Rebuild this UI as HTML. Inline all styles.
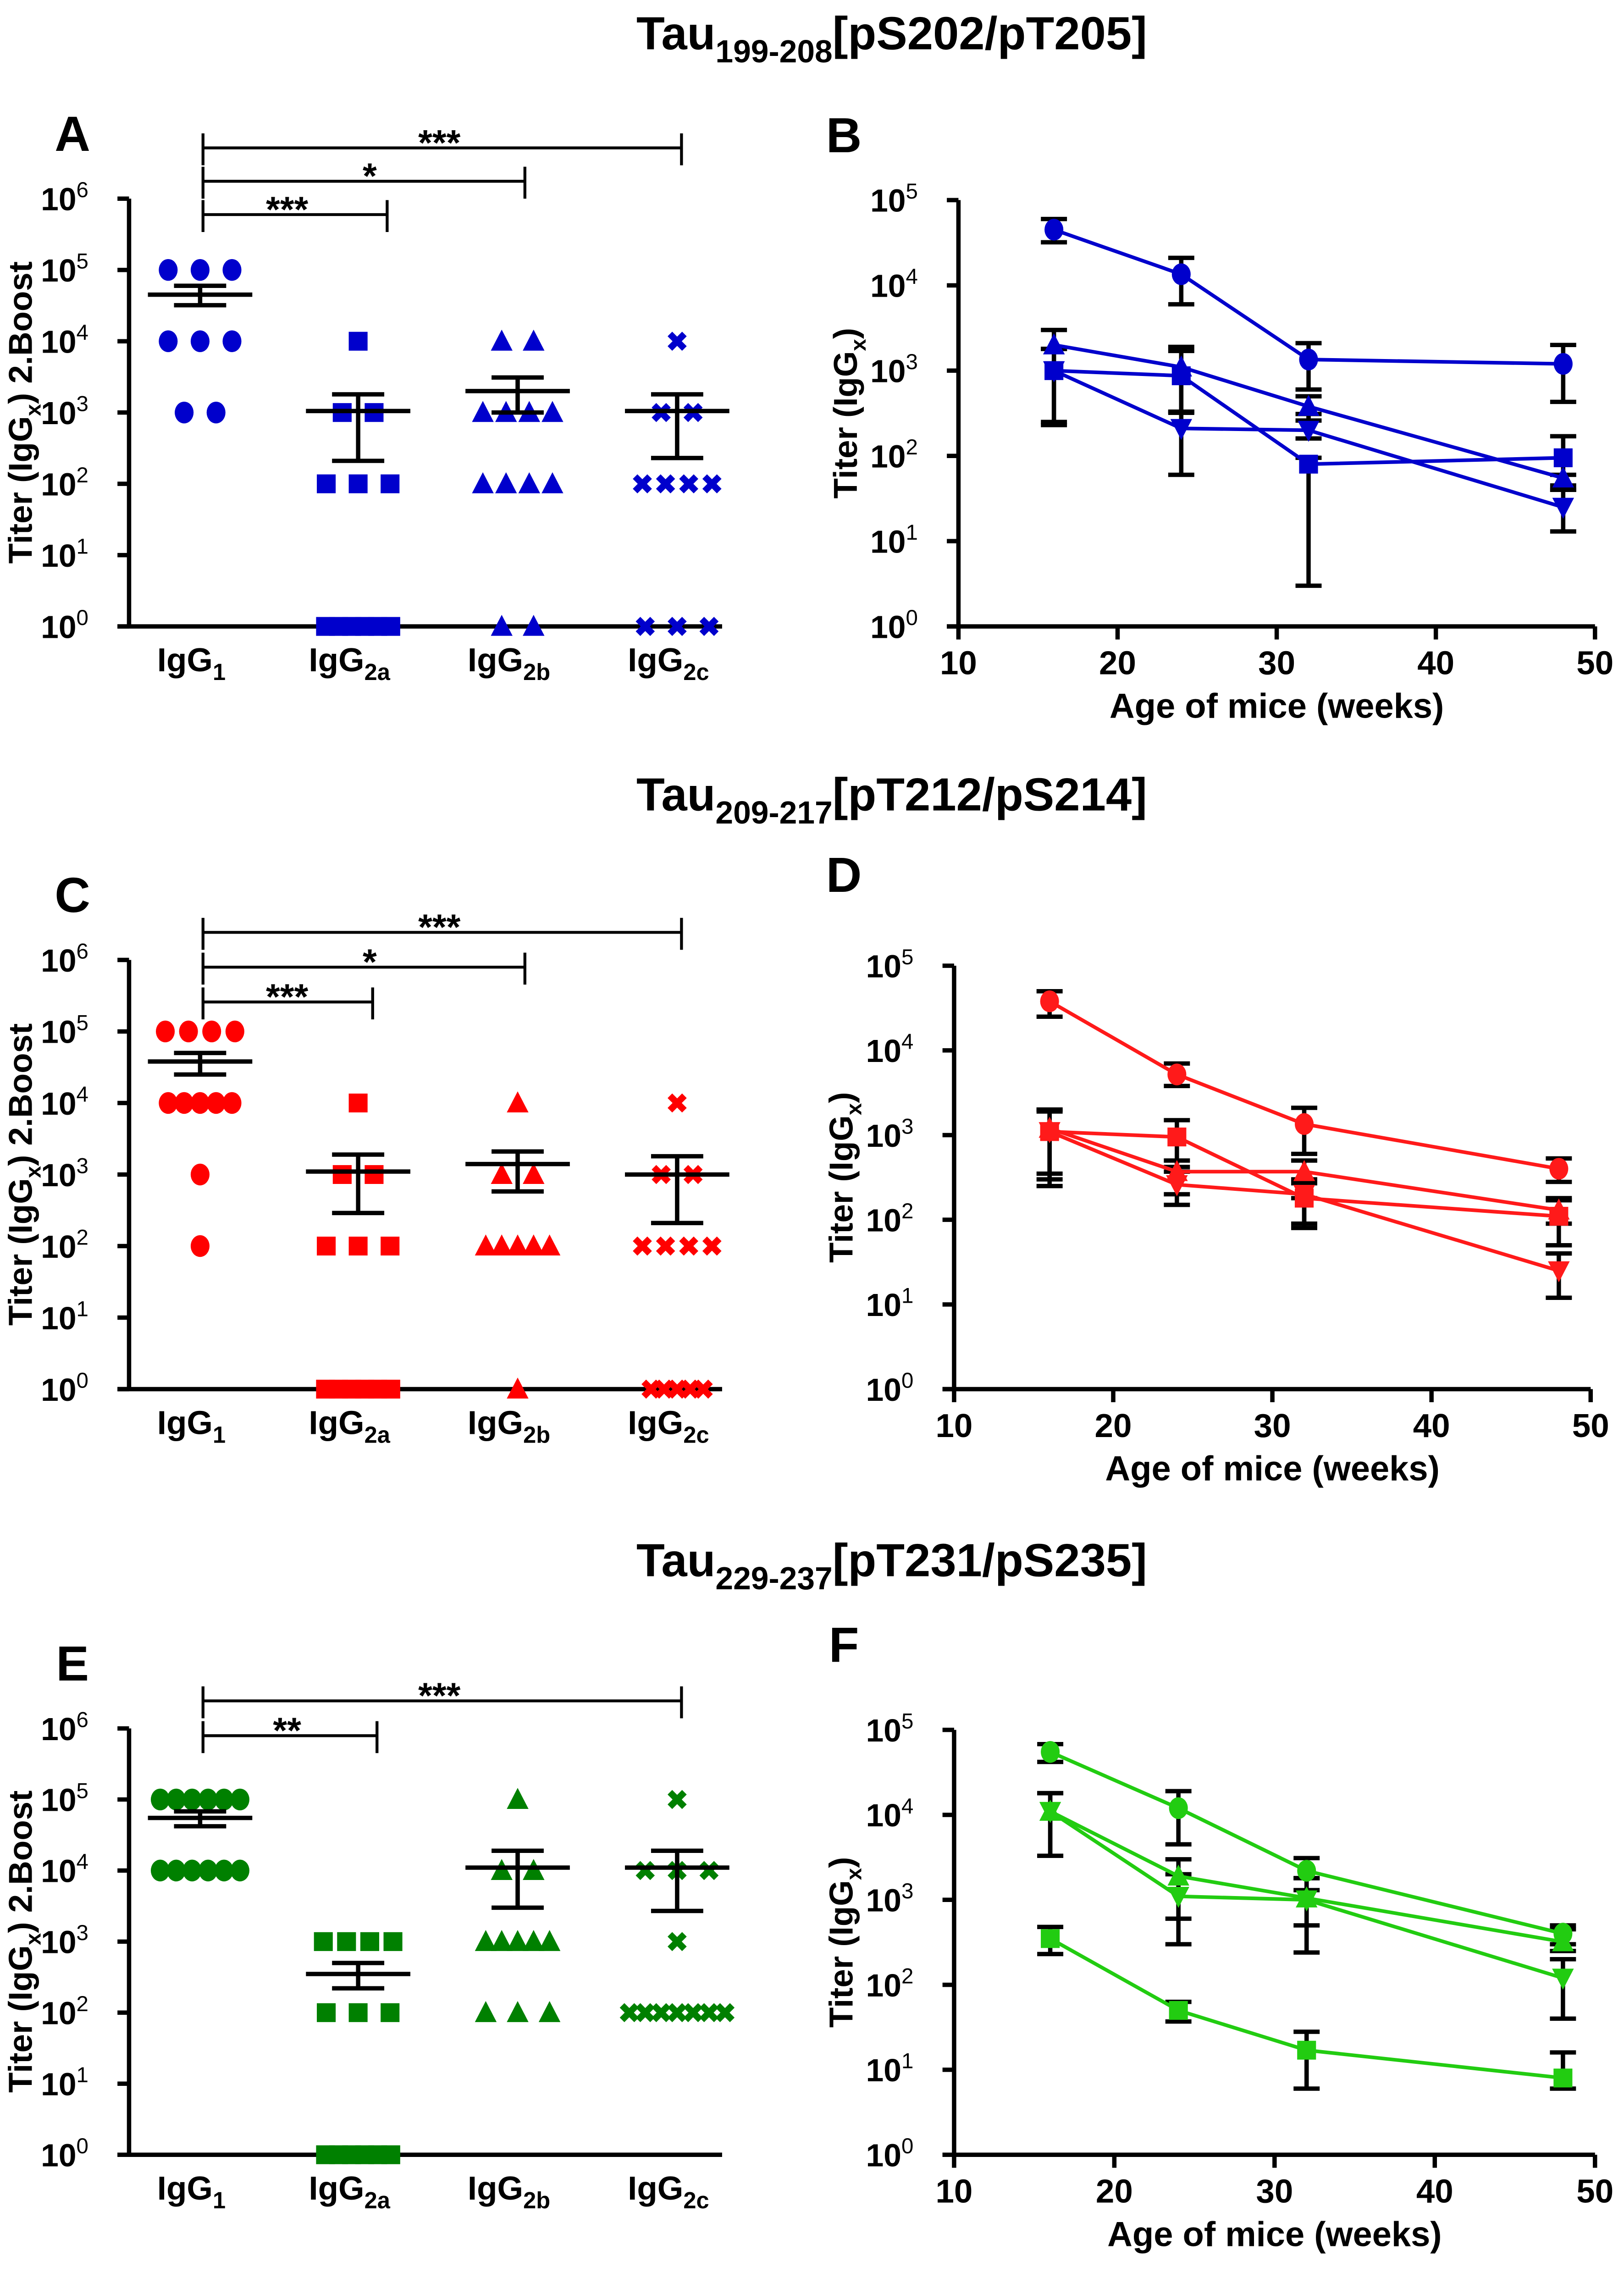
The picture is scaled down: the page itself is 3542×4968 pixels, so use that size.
<!DOCTYPE html>
<html><head><meta charset="utf-8">
<style>
html,body{margin:0;padding:0;background:#fff;}
svg{display:block;font-family:"Liberation Sans Narrow","Liberation Sans",sans-serif;font-weight:bold;}
</style></head>
<body>
<svg id="fig" xmlns="http://www.w3.org/2000/svg" width="3542" height="4968" viewBox="0 0 1120 1571" preserveAspectRatio="none"></svg>
<script>
// ---------- data ----------
const stripCategories = ["IgG1","IgG2a","IgG2b","IgG2c"];
const stripLevels = [100000,10000,1000,100,1];
const countsA = [[3,3,2,0,0],[0,1,2,3,6],[0,2,4,4,2],[0,1,2,4,3]];
const countsC = [[4,5,1,1,0],[0,1,2,3,6],[0,1,2,5,1],[0,1,2,4,5]];
const countsE = [[6,6,0,0,0],[0,0,4,3,6],[1,2,5,3,0],[1,3,1,7,0]];
const meanA = [45000,1050,2000,1050];
const lowA = [32000,210,1000,230];
const highA = [60000,1800,3100,1800];
const meanC = [38000,1100,1400,1000];
const lowC = [25000,290,580,210];
const highC = [50000,1900,2100,1800];
const meanE = [55000,350,11000,11000];
const lowE = [42000,220,3000,2700];
const highE = [68000,500,19000,19000];

const ages = [16,24,32,48];
const yTicksDec = [0,1,2,3,4,5,6];
const xTicks = [10,20,30,40,50];
const bCircle = [45000,13500,1350,1200], bCircleLo=[32000,6000,600,430], bCircleHi=[60000,21000,2100,2000];
const bUp = [2000,1100,380,55], bUpLo=[1800,330,260,40], bUpHi=[3000,1900,500,45];
const bSquare = [1000,870,80,95], bSquareLo=[250,320,3,60], bSquareHi=[1800,1700,95,170];
const bDown = [1000,210,200,25], bDownLo=[230,60,160,13], bDownHi=[1800,330,310,40];
const dCircle = [38000,5200,1350,400], dCircleLo=[25000,3800,600,280], dCircleHi=[50000,7000,2100,530];
const dSquare = [1100,950,180,110], dSquareLo=[350,420,90,50], dSquareHi=[1900,1500,270,170];
const dUp = [1200,370,370,130], dUpLo=[300,200,180,90], dUpHi=[2000,500,500,180];
const dDown = [1100,260,200,25], dDownLo=[250,150,80,12], dDownHi=[2000,370,300,40];
const fCircle = [55000,12000,2200,400], fCircleLo=[42000,4500,1300,300], fCircleHi=[68000,19000,3100,500];
const fUp = [11000,1900,1050,320], fUpLo=[3300,600,500,250], fUpHi=[18000,3000,1800,450];
const fDown = [11000,1100,1000,120], fDownLo=[3300,300,240,40], fDownHi=[18000,2000,1800,200];
const fSquare = [350,50,17,8], fSquareLo=[230,37,6,6], fSquareHi=[480,63,28,16];

const svg = document.getElementById('fig');
const NS = "http://www.w3.org/2000/svg";
function el(tag, attrs, name, parent){
  const e = document.createElementNS(NS, tag);
  for (const k in attrs) e.setAttribute(k, attrs[k]);
  
  
  (parent||svg).appendChild(e);
  return e;
}
function txt(x,y,s,size,name,anchor,parent){
  const t = el('text',{x:x,y:y,'font-size':size,'text-anchor':anchor||'middle',fill:'#000'},name,parent);
  t.textContent = s; return t;
}
function marker(shape,x,y,color,name,g){
  if(shape==='circle') return el('ellipse',{cx:x,cy:y,rx:6.5,ry:7.5,fill:color},name,g);
  if(shape==='square') return el('rect',{x:x-6.5,y:y-6.5,width:13,height:13,fill:color},name,g);
  if(shape==='up') return el('polygon',{points:`${x},${y-8} ${x+7.5},${y+6.5} ${x-7.5},${y+6.5}`,fill:color},name,g);
  if(shape==='down') return el('polygon',{points:`${x},${y+8} ${x+7.5},${y-6.5} ${x-7.5},${y-6.5}`,fill:color},name,g);
  if(shape==='x') return el('path',{d:`M${x-5},${y-5}L${x+5},${y+5}M${x+5},${y-5}L${x-5},${y+5}`,stroke:color,'stroke-width':4.5},name,g);
}
function yTickLabel(x,y,p,name,g){
  const t = el('text',{x:x,y:y+8,'font-size':22,'text-anchor':'end',fill:'#000'},name,g);
  const a = document.createElementNS(NS,'tspan'); a.textContent='10'; t.appendChild(a);
  const b = document.createElementNS(NS,'tspan'); b.setAttribute('dy','-9'); b.setAttribute('font-size','15'); b.setAttribute('font-weight','normal'); b.textContent=String(p); t.appendChild(b);
}
function yTitle(x,y,pre,post,name,g){
  const t = el('text',{transform:`translate(${x},${y}) rotate(-90)`,'font-size':23,'text-anchor':'middle',fill:'#000'},name,g);
  const a=document.createElementNS(NS,'tspan'); a.textContent='Titer (IgG'; t.appendChild(a);
  const b=document.createElementNS(NS,'tspan'); b.setAttribute('dy','6'); b.setAttribute('font-size','15'); b.textContent='x'; t.appendChild(b);
  const c=document.createElementNS(NS,'tspan'); c.setAttribute('dy','-6'); c.textContent=') '+post; t.appendChild(c);
}
function title(y,base,sub,rest,name){
  const t = el('text',{x:615,y:y,'font-size':32,'text-anchor':'middle',fill:'#000'},name);
  const a=document.createElementNS(NS,'tspan'); a.textContent=base; t.appendChild(a);
  const b=document.createElementNS(NS,'tspan'); b.setAttribute('dy','9'); b.setAttribute('font-size','22'); b.textContent=sub; t.appendChild(b);
  const c=document.createElementNS(NS,'tspan'); c.setAttribute('dy','-9'); c.textContent=rest; t.appendChild(c);
}
function yTickDecades(g,ax,yTop,yBot,n){
  const dec=(yBot-yTop)/n;
  for(let p=0;p<=n;p++){
    const y=yBot-p*dec;
    el('line',{x1:ax-8,y1:y,x2:ax,y2:y,stroke:'#000','stroke-width':3},'y-tick',g);
    yTickLabel(ax-28,y,yTicksDec[p],'y-tick-label',g);
  }
}

function stripPanel(opt){
  const g = el('g',{},opt.name);
  const ax=89, xr=498, yTop=opt.yTop, yBot=opt.yBot;
  const dec=(yBot-yTop)/6;
  const ys=v=>yBot-Math.log10(v)*dec;
  const cx=[138,247,357,467];
  txt(50,opt.yTop-33,opt.letter,34,'panel-letter-'+opt.letter,'middle',g);
  el('line',{x1:ax,y1:yTop,x2:ax,y2:yBot,stroke:'#000','stroke-width':3},'y-axis',g);
  el('line',{x1:ax-8,y1:yBot,x2:xr,y2:yBot,stroke:'#000','stroke-width':3},'x-axis',g);
  yTickDecades(g,ax,yTop,yBot,6);
  const subs=['1','2a','2b','2c'];
  stripCategories.forEach((c,i)=>{
    const t=el('text',{x:cx[i]-6,y:yBot+31,'font-size':23,'text-anchor':'middle',fill:'#000'},'x-tick-label-'+c,g);
    const a=document.createElementNS(NS,'tspan'); a.textContent='IgG'; t.appendChild(a);
    const b=document.createElementNS(NS,'tspan'); b.setAttribute('dy','6'); b.setAttribute('font-size','16'); b.textContent=subs[i]; t.appendChild(b);
  });
  yTitle(22,(yTop+yBot)/2,'', '2.Boost','y-axis-title',g);
  opt.counts.forEach((cnts,i)=>{
    cnts.forEach((n,li)=>{
      const spacing = n>=5 ? 11 : (n===4?16:22);
      for(let k=0;k<n;k++){
        const x=cx[i]+(k-(n-1)/2)*(li===4&&n>4?9:spacing);
        marker(opt.shapes[i],x,ys(stripLevels[li]),opt.color,'point-'+stripCategories[i],g);
      }
    });
    const m=ys(opt.mean[i]), lo=ys(opt.low[i]), hi=ys(opt.high[i]);
    el('line',{x1:cx[i]-36,y1:m,x2:cx[i]+36,y2:m,stroke:'#000','stroke-width':3},'mean-'+stripCategories[i],g);
    el('line',{x1:cx[i],y1:lo,x2:cx[i],y2:hi,stroke:'#000','stroke-width':3},'sem-bar-'+stripCategories[i],g);
    el('line',{x1:cx[i]-18,y1:lo,x2:cx[i]+18,y2:lo,stroke:'#000','stroke-width':3},'sem-cap',g);
    el('line',{x1:cx[i]-18,y1:hi,x2:cx[i]+18,y2:hi,stroke:'#000','stroke-width':3},'sem-cap',g);
  });
  opt.sig.forEach(s=>{
    el('line',{x1:140,y1:s[0],x2:s[1],y2:s[0],stroke:'#000','stroke-width':2},'significance-bar',g);
    el('line',{x1:140,y1:s[0]-10,x2:140,y2:s[0]+12,stroke:'#000','stroke-width':2},'significance-tick',g);
    el('line',{x1:s[1],y1:s[0]-10,x2:s[1],y2:s[0]+12,stroke:'#000','stroke-width':2},'significance-tick',g);
    txt(s[2],s[0]+5,s[3],25,'significance-label','middle',g);
  });
}

function linePanel(opt){
  const g = el('g',{},opt.name);
  const ax=opt.ax, xr=opt.xr, yTop=opt.yTop, yBot=opt.yBot;
  const dec=(yBot-yTop)/5;
  const ys=v=>yBot-Math.log10(v)*dec;
  const xs=v=>ax+(v-10)/40*(xr-ax);
  txt(582,opt.yTop-33-(opt.letterOff||0),opt.letter,34,'panel-letter-'+opt.letter,'middle',g);
  el('line',{x1:ax,y1:yTop,x2:ax,y2:yBot,stroke:'#000','stroke-width':3},'y-axis',g);
  el('line',{x1:ax-8,y1:yBot,x2:xr,y2:yBot,stroke:'#000','stroke-width':3},'x-axis',g);
  yTickDecades(g,ax,yTop,yBot,5);
  xTicks.forEach(t=>{
    el('line',{x1:xs(t),y1:yBot,x2:xs(t),y2:yBot+9,stroke:'#000','stroke-width':3},'x-tick',g);
    txt(xs(t),yBot+33,String(t),23,'x-tick-label','middle',g);
  });
  txt((ax+xr)/2,yBot+63,'Age of mice (weeks)',24,'x-axis-title','middle',g);
  yTitle(ax-70,(yTop+yBot)/2,'','','y-axis-title',g);
  opt.series.forEach(s=>{
    const [vals,lo,hi,shape]=s;
    vals.forEach((v,i)=>{
      const x=xs(ages[i]);
      el('line',{x1:x,y1:ys(lo[i]),x2:x,y2:ys(hi[i]),stroke:'#000','stroke-width':3},'error-bar',g);
      el('line',{x1:x-9,y1:ys(lo[i]),x2:x+9,y2:ys(lo[i]),stroke:'#000','stroke-width':3},'error-cap',g);
      el('line',{x1:x-9,y1:ys(hi[i]),x2:x+9,y2:ys(hi[i]),stroke:'#000','stroke-width':3},'error-cap',g);
    });
  });
  opt.series.forEach(s=>{
    const [vals,lo,hi,shape]=s;
    el('polyline',{points:vals.map((v,i)=>xs(ages[i])+','+ys(v)).join(' '),fill:'none',stroke:opt.color,'stroke-width':2.5},'series-line-'+shape,g);
    vals.forEach((v,i)=>marker(shape,xs(ages[i]),ys(v),opt.color,'series-point-'+shape,g));
  });
}

title(34,'Tau','199-208','[pS202/pT205]','title-tau199');
title(559,'Tau','209-217','[pT212/pS214]','title-tau209');
title(1087,'Tau','229-237','[pT231/pS235]','title-tau229');

stripPanel({name:'panel-a',letter:'A',yTop:137,yBot:432,color:'#0000cc',shapes:['circle','square','up','x'],
  counts:countsA,mean:meanA,low:lowA,high:highA,
  sig:[[102,470,303,'***'],[125,362,255,'*'],[148,267,198,'***']]});
stripPanel({name:'panel-c',letter:'C',yTop:662,yBot:958,color:'#ff0000',shapes:['circle','square','up','x'],
  counts:countsC,mean:meanC,low:lowC,high:highC,
  sig:[[643,470,303,'***'],[667,362,255,'*'],[691,257,198,'***']]});
stripPanel({name:'panel-e',letter:'E',yTop:1192,yBot:1486,color:'#008000',shapes:['circle','square','up','x'],
  counts:countsE,mean:meanE,low:lowE,high:highE,
  sig:[[1173,470,303,'***'],[1197,260,198,'**']]});

linePanel({name:'panel-b',letter:'B',ax:661,xr:1100,yTop:138,yBot:432,color:'#0000cc',
  series:[[bCircle,bCircleLo,bCircleHi,'circle'],[bUp,bUpLo,bUpHi,'up'],[bSquare,bSquareLo,bSquareHi,'square'],[bDown,bDownLo,bDownHi,'down']]});
linePanel({name:'panel-d',letter:'D',ax:658,xr:1097,yTop:666,yBot:958,color:'#ff1a1a',
  series:[[dCircle,dCircleLo,dCircleHi,'circle'],[dSquare,dSquareLo,dSquareHi,'square'],[dUp,dUpLo,dUpHi,'up'],[dDown,dDownLo,dDownHi,'down']],letterOff:18});
linePanel({name:'panel-f',letter:'F',ax:658,xr:1100,yTop:1193,yBot:1486,color:'#22cc11',
  series:[[fCircle,fCircleLo,fCircleHi,'circle'],[fUp,fUpLo,fUpHi,'up'],[fDown,fDownLo,fDownHi,'down'],[fSquare,fSquareLo,fSquareHi,'square']],letterOff:14});
</script>
</body></html>
